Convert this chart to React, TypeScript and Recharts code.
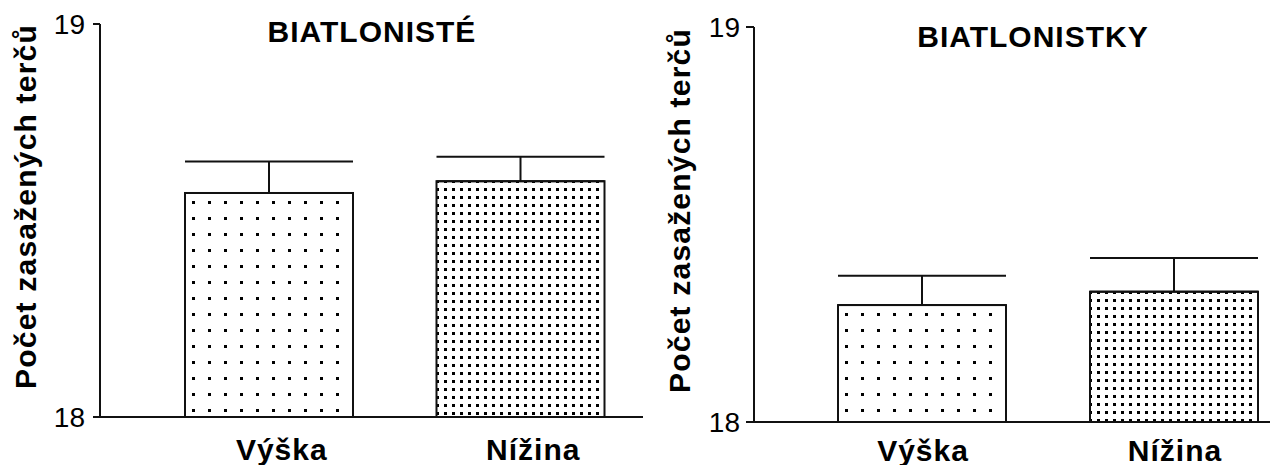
import { BarChart, Bar, XAxis, YAxis, ErrorBar } from "recharts";

const groups = ["Výška", "Nížina"];
const menMeans = [18.57, 18.6];
const menErr = [0.08, 0.062];
const womenMeans = [18.296, 18.33];
const womenErr = [0.074, 0.085];
const yTicks = [18, 19];
const yLabel = "Počet zasažených terčů";
const titles = ["BIATLONISTÉ", "BIATLONISTKY"];

const FONT = "'Liberation Sans', Arial, Helvetica, sans-serif";
const INK = "#111";

const buildRows = (means: number[], errs: number[]) =>
  groups.map((g, i) => ({ group: g, value: means[i], err: [0, errs[i]] }));

// bar fills, by category index
const fills = ["sparse", "dense"];

function PatternBar(props: any) {
  const { x, y, width, height, index, chartId } = props;
  if (width == null || height == null) return null;
  const id = `${chartId}-pat-${index}`;
  const dense = fills[index] === "dense";
  const tile = dense ? 8 : 16;
  const ox = dense ? -1 : 7;
  const oy = dense ? -1 : 8;
  return (
    <g>
      <defs>
        <pattern
          id={id}
          patternUnits="userSpaceOnUse"
          x={Math.round(x + ox)}
          y={Math.round(y + oy)}
          width={tile}
          height={tile}
        >
          <rect x={0} y={0} width={3} height={3} fill="#000" />
        </pattern>
      </defs>
      <rect x={x} y={y} width={width} height={height} fill="#fff" />
      <rect
        x={x}
        y={y}
        width={width}
        height={height}
        fill={`url(#${id})`}
        stroke={INK}
        strokeWidth={2}
      />
    </g>
  );
}

function XTick(props: any) {
  const { x, y, payload, shift, drop } = props;
  return (
    <text
      x={x + shift}
      y={y + drop}
      textAnchor="middle"
      fontFamily={FONT}
      fontWeight="bold"
      fontSize={30}
      letterSpacing={1}
      fill="#000"
    >
      {payload.value}
    </text>
  );
}

interface PanelProps {
  chartId: string;
  rows: any[];
  left: number;
  width: number;
  top: number;
  yAxisWidth: number;
  xAxisHeight: number;
  padLeft: number;
  padRight: number;
  yTickSize: number;
  yTickMargin: number;
  tickShift: number;
  tickDrop: number;
}

function Panel(p: PanelProps) {
  return (
    <div style={{ position: "absolute", left: p.left, top: 0 }}>
      <BarChart
        width={p.width}
        height={465}
        data={p.rows}
        margin={{ top: p.top, right: 0, bottom: 0, left: 0 }}
        barSize={168}
      >
        <XAxis
          dataKey="group"
          height={p.xAxisHeight}
          padding={{ left: p.padLeft, right: p.padRight }}
          axisLine={{ stroke: INK, strokeWidth: 2 }}
          tickLine={false}
          tickSize={0}
          tickMargin={0}
          interval={0}
          tick={(t: any) => (
            <XTick {...t} shift={p.tickShift} drop={p.tickDrop} />
          )}
        />
        <YAxis
          width={p.yAxisWidth}
          domain={[18, 19]}
          ticks={yTicks}
          allowDataOverflow
          axisLine={{ stroke: INK, strokeWidth: 2 }}
          tickLine={{ stroke: INK, strokeWidth: 2 }}
          tickSize={p.yTickSize}
          tickMargin={p.yTickMargin}
          tick={{ fontFamily: FONT, fontSize: 28, fill: "#000" }}
          label={{
            content: ({ viewBox }: any) => {
              const cx = viewBox.x + viewBox.width - 75;
              const cy = viewBox.y + viewBox.height / 2 - 14;
              return (
                <text
                  x={cx}
                  y={cy}
                  transform={`rotate(-90, ${cx}, ${cy})`}
                  textAnchor="middle"
                  dominantBaseline="central"
                  fontFamily={FONT}
                  fontWeight="bold"
                  fontSize={30}
                  letterSpacing={1.2}
                  fill="#000"
                >
                  {yLabel}
                </text>
              );
            },
          }}
        />
        <Bar
          dataKey="value"
          isAnimationActive={false}
          shape={(s: any) => <PatternBar {...s} chartId={p.chartId} />}
        >
          <ErrorBar
            dataKey="err"
            direction="y"
            width={84}
            stroke={INK}
            strokeWidth={2}
            isAnimationActive={false}
          />
        </Bar>
      </BarChart>
    </div>
  );
}

export default function App() {
  return (
    <div
      style={{
        position: "fixed",
        left: 0,
        top: 0,
        width: 1270,
        height: 465,
        overflow: "hidden",
        background: "#fff",
      }}
    >
      <Panel
        chartId="men"
        rows={buildRows(menMeans, menErr)}
        left={0}
        width={643}
        top={24}
        yAxisWidth={100}
        xAxisHeight={48}
        padLeft={43}
        padRight={-3}
        yTickSize={7}
        yTickMargin={8}
        tickShift={13}
        tickDrop={43}
      />
      <Panel
        chartId="women"
        rows={buildRows(womenMeans, womenErr)}
        left={640}
        width={660}
        top={27}
        yAxisWidth={114}
        xAxisHeight={43}
        padLeft={42}
        padRight={0}
        yTickSize={8}
        yTickMargin={6}
        tickShift={1}
        tickDrop={39}
      />
      <svg
        width={1270}
        height={465}
        style={{ position: "absolute", left: 0, top: 0, pointerEvents: "none" }}
      >
        <text
          x={372}
          y={42}
          textAnchor="middle"
          fontFamily={FONT}
          fontWeight="bold"
          fontSize={30}
          letterSpacing={1}
          fill="#000"
        >
          {titles[0]}
        </text>
        <text
          x={1033}
          y={46.5}
          textAnchor="middle"
          fontFamily={FONT}
          fontWeight="bold"
          fontSize={30}
          letterSpacing={1}
          fill="#000"
        >
          {titles[1]}
        </text>
      </svg>
    </div>
  );
}
